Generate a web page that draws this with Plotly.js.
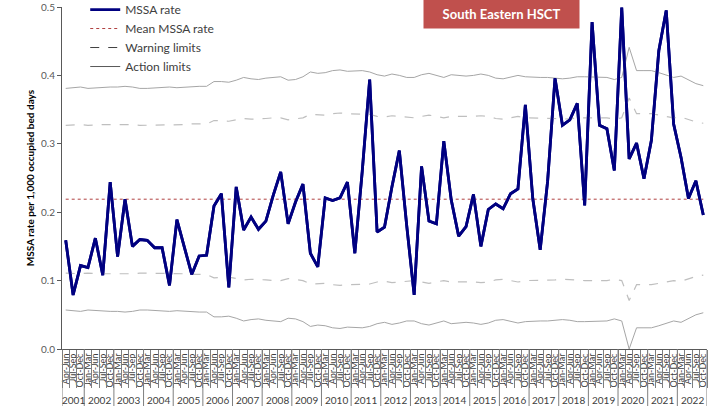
<!DOCTYPE html>
<html>
<head>
<meta charset="utf-8">
<script src="https://cdn.plot.ly/plotly-3.0.1.min.js"></script>
<style>html,body{margin:0;padding:0;background:#fff;}#chart{width:718px;height:412px;}</style>
</head>
<body>
<div id="chart"></div>
<script>
// ---- data ----
const years = [2001,2002,2003,2004,2005,2006,2007,2008,2009,2010,2011,2012,2013,2014,2015,2016,2017,2018,2019,2020,2021,2022];
const quarterNames = ['Jan-Mar','Apr-Jun','Jul-Sep','Oct-Dec'];
const firstQuarterIndex = 1; // series starts Apr-Jun 2001
const lastQuarterIndex = 3;  // series ends Oct-Dec 2022

const mssaRate = [
  0.159,0.079,0.122,0.119,0.162,0.108,0.244,0.135,0.219,0.150,
  0.160,0.159,0.148,0.148,0.093,0.189,0.149,0.109,0.136,0.137,
  0.209,0.227,0.090,0.237,0.174,0.193,0.175,0.187,0.225,0.259,
  0.183,0.215,0.241,0.140,0.120,0.221,0.217,0.221,0.244,0.140,
  0.260,0.394,0.171,0.178,0.237,0.290,0.180,0.079,0.267,0.187,
  0.183,0.304,0.218,0.165,0.179,0.226,0.150,0.204,0.212,0.205,
  0.227,0.234,0.357,0.220,0.145,0.245,0.396,0.327,0.335,0.359,
  0.210,0.478,0.327,0.322,0.261,0.499,0.278,0.301,0.249,0.305,
  0.436,0.495,0.329,0.280,0.220,0.246,0.196
];
const meanRate = 0.219;
const upperAction = [
  0.381,0.382,0.383,0.381,0.382,0.382,0.383,0.383,0.384,0.383,
  0.381,0.381,0.382,0.383,0.383,0.382,0.383,0.384,0.384,0.384,
  0.391,0.391,0.390,0.393,0.397,0.395,0.394,0.396,0.397,0.398,
  0.393,0.394,0.398,0.405,0.403,0.404,0.407,0.408,0.406,0.406,
  0.407,0.405,0.401,0.399,0.402,0.400,0.397,0.397,0.401,0.403,
  0.400,0.397,0.401,0.400,0.399,0.400,0.402,0.400,0.396,0.395,
  0.398,0.400,0.398,0.397,0.397,0.397,0.396,0.395,0.396,0.398,
  0.398,0.398,0.398,0.397,0.394,0.397,0.441,0.407,0.407,0.407,
  0.404,0.400,0.397,0.399,0.393,0.388,0.385
];
const upperWarning = [
  0.327,0.328,0.328,0.327,0.328,0.328,0.328,0.328,0.329,0.328,
  0.327,0.327,0.328,0.328,0.328,0.328,0.328,0.329,0.329,0.329,
  0.334,0.334,0.333,0.335,0.337,0.336,0.336,0.337,0.338,0.338,
  0.335,0.336,0.338,0.343,0.342,0.342,0.344,0.345,0.344,0.344,
  0.344,0.343,0.340,0.339,0.341,0.340,0.338,0.338,0.340,0.342,
  0.340,0.338,0.340,0.340,0.339,0.340,0.341,0.340,0.337,0.336,
  0.338,0.340,0.338,0.338,0.338,0.338,0.337,0.336,0.337,0.338,
  0.338,0.338,0.338,0.338,0.336,0.338,0.367,0.344,0.344,0.344,
  0.342,0.340,0.338,0.339,0.335,0.332,0.330
];
const lowerWarning = [
  0.111,0.110,0.110,0.111,0.110,0.110,0.110,0.110,0.109,0.110,
  0.111,0.111,0.110,0.110,0.110,0.110,0.110,0.109,0.109,0.109,
  0.104,0.104,0.105,0.103,0.101,0.102,0.102,0.101,0.100,0.100,
  0.103,0.102,0.100,0.095,0.096,0.096,0.094,0.093,0.094,0.094,
  0.094,0.095,0.098,0.099,0.097,0.098,0.100,0.100,0.098,0.096,
  0.098,0.100,0.098,0.098,0.099,0.098,0.097,0.098,0.101,0.102,
  0.100,0.098,0.100,0.100,0.100,0.100,0.101,0.102,0.101,0.100,
  0.100,0.100,0.100,0.100,0.102,0.100,0.071,0.094,0.094,0.094,
  0.096,0.098,0.100,0.099,0.103,0.106,0.108
];
const lowerAction = [
  0.057,0.056,0.055,0.057,0.056,0.056,0.055,0.055,0.054,0.055,
  0.057,0.057,0.056,0.055,0.055,0.056,0.055,0.054,0.054,0.054,
  0.047,0.047,0.048,0.045,0.041,0.043,0.044,0.042,0.041,0.040,
  0.045,0.044,0.040,0.033,0.035,0.034,0.031,0.030,0.032,0.032,
  0.031,0.033,0.037,0.039,0.036,0.038,0.041,0.041,0.037,0.035,
  0.038,0.041,0.037,0.038,0.039,0.038,0.036,0.038,0.042,0.043,
  0.040,0.038,0.040,0.041,0.041,0.041,0.042,0.043,0.042,0.040,
  0.040,0.040,0.040,0.041,0.044,0.041,0.000,0.031,0.031,0.031,
  0.034,0.038,0.041,0.039,0.045,0.050,0.053
];

// ---- build categories ----
const catYear = [], catQuarter = [], catFlat = [];
years.forEach((y, yi) => {
  quarterNames.forEach((q, qi) => {
    if (yi === 0 && qi < firstQuarterIndex) return;
    if (yi === years.length - 1 && qi > lastQuarterIndex) return;
    catYear.push(String(y));
    catQuarter.push(q);
    catFlat.push(q + ' ' + y);
  });
});
const n = catFlat.length;
const last = n - 1;

// year groups (first / last category index of each year)
const yearGroups = years.map(y => {
  const s = String(y);
  return {label: s, first: catYear.indexOf(s), last: catYear.lastIndexOf(s)};
});

const limitColor = '#A6A6A6';
const warnColor = '#BFBFBF';

const traces = [
  {x: catFlat, y: mssaRate, type: 'scatter', mode: 'lines', name: 'MSSA rate',
   line: {color: '#000080', width: 2.8}},
  {x: [catFlat[0], catFlat[last]], y: [meanRate, meanRate], type: 'scatter', mode: 'lines',
   name: 'Mean MSSA rate', line: {color: '#B04040', width: 1, dash: 'dot'}},
  {x: [catFlat[0]], y: [null], type: 'scatter', mode: 'lines', name: 'Warning limits',
   line: {color: '#404040', width: 1, dash: 'dash'}},
  {x: [catFlat[0]], y: [null], type: 'scatter', mode: 'lines', name: 'Action limits',
   line: {color: '#595959', width: 1}},
  {x: catFlat, y: upperAction, type: 'scatter', mode: 'lines', line: {color: limitColor, width: 1}, showlegend: false},
  {x: catFlat, y: lowerAction, type: 'scatter', mode: 'lines', line: {color: limitColor, width: 1}, showlegend: false},
  {x: catFlat, y: upperWarning, type: 'scatter', mode: 'lines', line: {color: warnColor, width: 1.2, dash: 'dash'}, showlegend: false},
  {x: catFlat, y: lowerWarning, type: 'scatter', mode: 'lines', line: {color: warnColor, width: 1.2, dash: 'dash'}, showlegend: false},
  // rate line redrawn above the limit lines (no legend)
  {x: catFlat, y: mssaRate, type: 'scatter', mode: 'lines', showlegend: false,
   line: {color: '#000080', width: 2.8}},
  // invisible carrier for the boundary tick-mark axis
  {x: catFlat, y: mssaRate, xaxis: 'x2', type: 'scatter', mode: 'lines', showlegend: false,
   line: {color: 'rgba(0,0,0,0)', width: 0}}
];

const plotH = 412 - 7 - 63;
const shapes = [];
yearGroups.forEach(g => {
  shapes.push({type: 'line', xref: 'x', yref: 'paper', x0: g.first - 0.5, x1: g.first - 0.5,
               y0: 0, y1: -57 / plotH, line: {color: '#7F7F7F', width: 1}});
});
shapes.push({type: 'line', xref: 'x', yref: 'paper', x0: n - 0.5, x1: n - 0.5,
             y0: 0, y1: -57 / plotH, line: {color: '#7F7F7F', width: 1}});

const annotations = yearGroups.map(g => ({
  xref: 'x', yref: 'paper', x: (g.first + g.last) / 2, y: -51 / plotH,
  xanchor: 'center', yanchor: 'middle', showarrow: false,
  text: g.label, font: {size: 10, color: '#404040'}
}));
annotations.push({
  xref: 'paper', yref: 'paper', x: 0.6814, y: 0.9795, xanchor: 'center', yanchor: 'middle',
  text: '<b>South Eastern HSCT</b>', showarrow: false,
  font: {size: 13, color: '#fff'}, bgcolor: '#C0504D', width: 153, height: 26
});

const layout = {
  width: 718, height: 412,
  margin: {l: 62, r: 11, t: 7, b: 63, autoexpand: false},
  paper_bgcolor: '#fff', plot_bgcolor: '#fff',
  font: {family: 'Lato, "Liberation Sans", sans-serif', color: '#404040'},
  showlegend: true,
  legend: {x: 0.036, y: 1.035, xanchor: 'left', yanchor: 'top', bgcolor: 'rgba(0,0,0,0)',
           font: {size: 12, color: '#404040'}, tracegroupgap: 0, traceorder: 'normal'},
  xaxis: {
    type: 'category', categoryorder: 'array', categoryarray: catFlat, range: [-0.5, n - 0.5],
    tickmode: 'array', tickvals: catFlat, ticktext: catQuarter,
    showline: true, linecolor: '#595959', linewidth: 1,
    ticks: '', tickangle: -90, tickfont: {size: 9, color: '#404040'},
    showgrid: false, zeroline: false
  },
  xaxis2: {
    type: 'category', overlaying: 'x', side: 'bottom', anchor: 'y',
    categoryorder: 'array', categoryarray: catFlat, range: [-0.5, n - 0.5],
    tickmode: 'linear', tick0: 0, dtick: 1, tickson: 'boundaries',
    ticks: 'outside', ticklen: 38, tickcolor: '#7F7F7F', tickwidth: 1,
    showticklabels: false, showline: false, showgrid: false, zeroline: false
  },
  yaxis: {
    range: [0, 0.5], tickmode: 'linear', tick0: 0, dtick: 0.1, tickformat: '.1f',
    showline: true, linecolor: '#595959', linewidth: 1,
    ticks: 'outside', ticklen: 4, tickcolor: '#595959',
    tickfont: {size: 10, color: '#595959'},
    showgrid: false, zeroline: false,
    title: {text: '<b>MSSA rate per 1,000 occupied bed days</b>', font: {size: 10, color: '#000'}, standoff: 4}
  },
  shapes: shapes,
  annotations: annotations
};

Plotly.newPlot('chart', traces, layout, {displayModeBar: false, staticPlot: true});
</script>
</body>
</html>
